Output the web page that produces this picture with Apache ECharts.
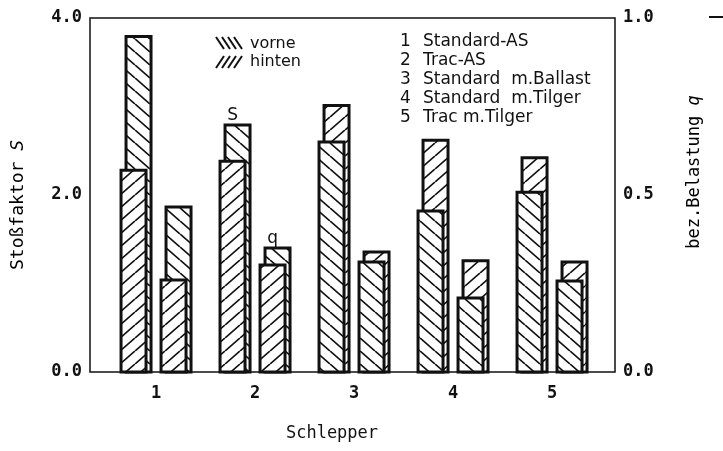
<!DOCTYPE html>
<html><head><meta charset="utf-8">
<script src="https://cdn.jsdelivr.net/npm/echarts@6/dist/echarts.min.js"></script>
<style>html,body{margin:0;padding:0;background:#fff}#c{width:723px;height:451px}</style>
</head><body><div id="c"></div>
<script>
// ---- data ----
const schlepper = [1, 2, 3, 4, 5];
const S_vorne  = [3.79, 2.79, 2.60, 1.82, 2.03];
const S_hinten = [2.28, 2.38, 3.01, 2.62, 2.42];
const q_vorne  = [0.466, 0.350, 0.311, 0.209, 0.257];
const q_hinten = [0.260, 0.302, 0.339, 0.314, 0.311];
const leftTicks  = [0, 2, 4];
const rightTicks = [0, 0.5, 1];
const listNums  = ['1', '2', '3', '4', '5'];
const listTexts = ['Standard-AS', 'Trac-AS', 'Standard  m.Ballast', 'Standard  m.Tilger', 'Trac m.Tilger'];
const annotations = [{ series: 'S', x: 2, text: 'S' }, { series: 'q', x: 2, text: 'q' }];

const INK = '#111';
const MONO = '"DejaVu Sans Mono", monospace';
const SANS = '"DejaVu Sans", sans-serif';

function hatch(kind) {
  const w = 15, h = 13;
  const c = document.createElement('canvas');
  c.width = w; c.height = h;
  const g = c.getContext('2d');
  g.fillStyle = '#fff'; g.fillRect(0, 0, w, h);
  g.strokeStyle = INK; g.lineWidth = 1.7;
  g.beginPath();
  for (const k of [-1, 0, 1]) {
    if (kind === 'vorne') { g.moveTo(k * w, 0); g.lineTo(k * w + w, h); }
    else { g.moveTo(k * w, h); g.lineTo(k * w + w, 0); }
  }
  g.stroke();
  return { image: c, repeat: 'repeat' };
}
const patV = hatch('vorne');
const patH = hatch('hinten');

function makeRender(name, side) {
  return function (params, api) {
    const x = api.value(0), v = api.value(1), h = api.value(2);
    const base = api.coord([x, 0]);
    const pV = api.coord([x, v]);
    const pH = api.coord([x, h]);
    const c = base[0] + side * 20;
    const wBar = 25;
    const vTall = v >= h;
    const backTop = vTall ? pV[1] : pH[1];
    const frontTop = vTall ? pH[1] : pV[1];
    const children = [
      { type: 'rect', shape: { x: c + 2.5 - wBar / 2, y: backTop, width: wBar, height: base[1] - backTop },
        style: { fill: vTall ? patV : patH, stroke: INK, lineWidth: 3 } },
      { type: 'rect', shape: { x: c - 2.5 - wBar / 2, y: frontTop, width: wBar, height: base[1] - frontTop },
        style: { fill: vTall ? patH : patV, stroke: INK, lineWidth: 3 } }
    ];
    annotations.forEach(a => {
      if (a.series === name && a.x === x) {
        children.push({ type: 'text', x: c - 2.5, y: backTop - 10,
          style: { text: a.text, fill: INK, font: '17px ' + SANS, textAlign: 'center', textVerticalAlign: 'middle' } });
      }
    });
    return { type: 'group', children };
  };
}

const graphics = [];
// legend hatch symbols
for (let i = 0; i < 4; i++) {
  graphics.push({ type: 'line', shape: { x1: 216 + 6 * i, y1: 37, x2: 224 + 6 * i, y2: 49 }, style: { stroke: INK, lineWidth: 2 } });
  graphics.push({ type: 'line', shape: { x1: 216 + 6 * i, y1: 68, x2: 224 + 6 * i, y2: 56 }, style: { stroke: INK, lineWidth: 2 } });
}
graphics.push({ type: 'text', x: 250, y: 44, style: { text: 'vorne', fill: INK, font: '16px ' + SANS, textVerticalAlign: 'middle' } });
graphics.push({ type: 'text', x: 250, y: 62, style: { text: 'hinten', fill: INK, font: '16px ' + SANS, textVerticalAlign: 'middle' } });
listNums.forEach((n, i) => {
  const y = 42 + i * 19;
  graphics.push({ type: 'text', x: 400, y, style: { text: n, fill: INK, font: '17px ' + SANS, textVerticalAlign: 'middle' } });
  graphics.push({ type: 'text', x: 423, y, style: { text: listTexts[i], fill: INK, font: '17px ' + SANS, textVerticalAlign: 'middle' } });
});
// axis titles
graphics.push({ type: 'text', x: 18, y: 205, rotation: Math.PI / 2,
  style: { text: '{a|Stoßfaktor }{b|S}', rich: { a: { fontFamily: MONO, fontSize: 18, color: INK }, b: { fontFamily: MONO, fontSize: 18, fontStyle: 'italic', color: INK } }, textAlign: 'center', textVerticalAlign: 'middle' } });
graphics.push({ type: 'text', x: 695, y: 172, rotation: Math.PI / 2,
  style: { text: '{a|bez.Belastung }{b|q}', rich: { a: { fontFamily: MONO, fontSize: 17, color: INK }, b: { fontFamily: MONO, fontSize: 17, fontStyle: 'italic', color: INK } }, textAlign: 'center', textVerticalAlign: 'middle' } });
graphics.push({ type: 'text', x: 332, y: 434, style: { text: 'Schlepper', fill: INK, font: '17px ' + MONO, textAlign: 'center', textVerticalAlign: 'middle' } });
// stray scan mark top right
graphics.push({ type: 'line', shape: { x1: 709, y1: 17, x2: 723, y2: 17 }, style: { stroke: INK, lineWidth: 2 } });

const tickLabel = { color: INK, fontFamily: MONO, fontSize: 17, fontWeight: 'bold' };

const chart = echarts.init(document.getElementById('c'));
chart.setOption({
  animation: false,
  backgroundColor: '#fff',
  grid: { left: 90, right: 108, top: 18, bottom: 79, show: true, borderColor: INK, borderWidth: 1.5, backgroundColor: 'transparent' },
  xAxis: {
    type: 'value', min: 0.333, max: 5.636,
    axisLine: { show: false }, axisTick: { show: false }, splitLine: { show: false },
    axisLabel: Object.assign({ customValues: schlepper, margin: 13, formatter: v => String(Math.round(v)) }, tickLabel)
  },
  yAxis: [
    { type: 'value', min: 0, max: 4, interval: 2, position: 'left',
      axisLine: { show: false }, axisTick: { show: false }, splitLine: { show: false },
      axisLabel: Object.assign({ margin: 8, customValues: leftTicks, formatter: v => v.toFixed(1) }, tickLabel) },
    { type: 'value', min: 0, max: 1, interval: 0.5, position: 'right',
      axisLine: { show: false }, axisTick: { show: false }, splitLine: { show: false },
      axisLabel: Object.assign({ margin: 8, customValues: rightTicks, formatter: v => v.toFixed(1) }, tickLabel) }
  ],
  series: [
    { type: 'custom', name: 'S', xAxisIndex: 0, yAxisIndex: 0, renderItem: makeRender('S', -1),
      data: schlepper.map((x, i) => [x, S_vorne[i], S_hinten[i]]) },
    { type: 'custom', name: 'q', xAxisIndex: 0, yAxisIndex: 1, renderItem: makeRender('q', 1),
      data: schlepper.map((x, i) => [x, q_vorne[i], q_hinten[i]]) }
  ],
  graphic: graphics
});
</script></body></html>
